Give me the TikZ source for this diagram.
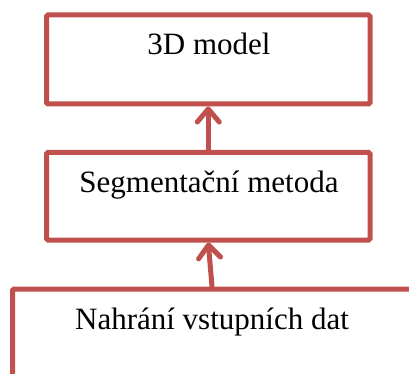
\documentclass[tikz,border=0pt]{standalone}
\usepackage{fontspec}
\setmainfont{Liberation Serif}
\usetikzlibrary{arrows.meta}
\definecolor{boxred}{RGB}{192,80,77}
\tikzset{
  stagebox/.style={draw=boxred, line width=5pt, rounded corners=1.5pt, fill=white,
    rectangle, inner sep=0pt},
  stagetext/.style={anchor=base, inner sep=0pt, font=\fontsize{31}{36}\selectfont},
  flow/.style={draw=boxred, line width=5pt, line cap=round,
    -{Straight Barb[length=13pt, width=22pt, line cap=round, line join=round]}}
}
\begin{document}
\begin{tikzpicture}[x=1pt, y=-1pt]
  \useasboundingbox (0,0) rectangle (409,374);
  \clip (0,0) rectangle (409,374);

  % processing stages, bottom stage runs past the page edge
  \node[stagebox, minimum width=323.5pt, minimum height=89pt] (model) at (208.25,59.5) {};
  \node[stagebox, minimum width=323.5pt, minimum height=87.5pt] (seg) at (208.25,196.25) {};
  \node[stagebox, minimum width=399pt, minimum height=88pt] (load) at (212,333) {};

  % stage titles
  \node[stagetext] (modeltext) at (209,55) {3D model};
  \node[stagetext] (segtext) at (209,193) {Segmentační metoda};
  \node[stagetext] (loadtext) at (212,329) {Nahrání vstupních dat};

  % data flow
  \draw[flow] (seg.north) -- (model.south);
  \draw[flow] (load.north) -- (seg.south);
\end{tikzpicture}
\end{document}
